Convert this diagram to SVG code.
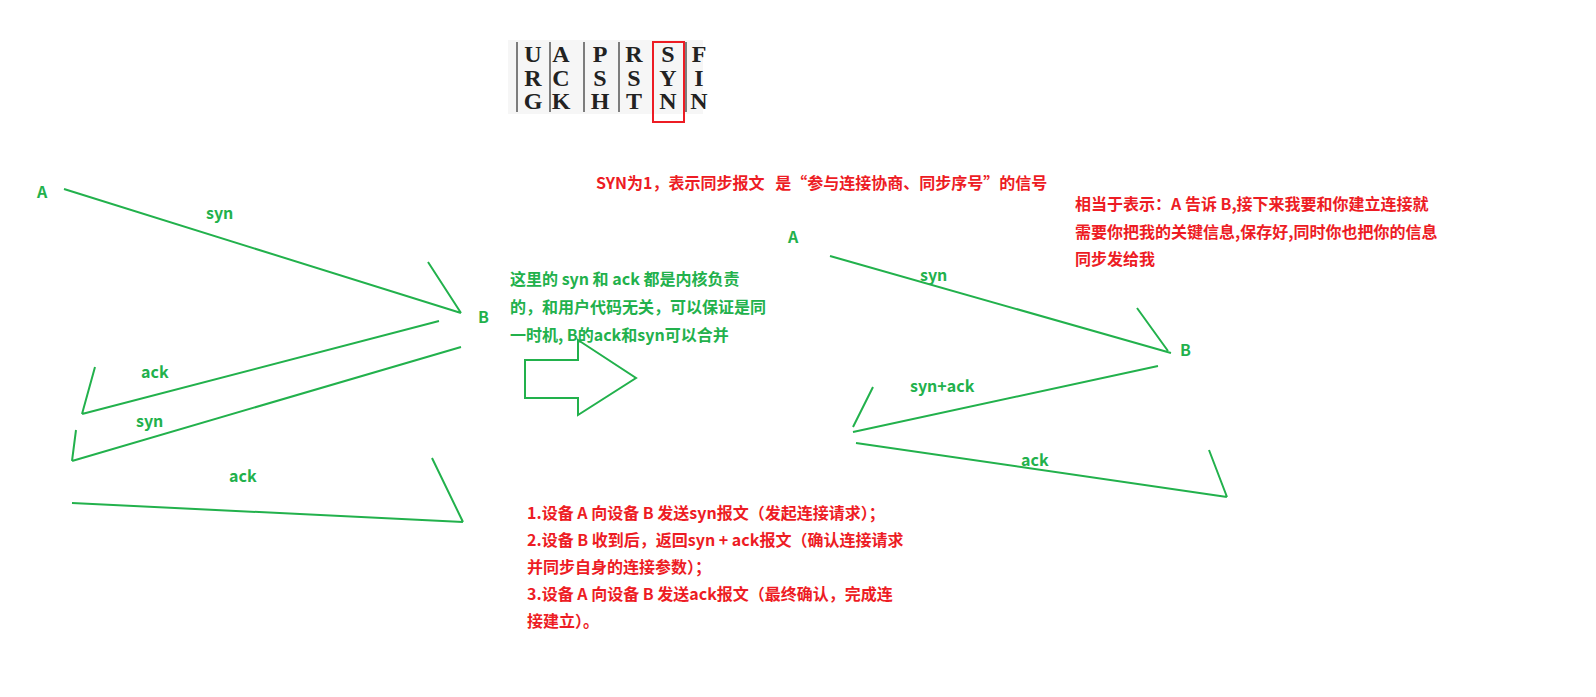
<svg xmlns="http://www.w3.org/2000/svg" width="1596" height="697" viewBox="0 0 1596 697">
<style>
.g{stroke:#22b14c;stroke-width:2;fill:none}
.gt{fill:#22b14c;font:bold 16px "Noto Sans CJK SC","Noto Sans",sans-serif}
.rt{fill:#ed1c24;font:bold 16px "Noto Sans CJK SC","Noto Sans",sans-serif}
.f{font:bold 24px "Liberation Serif",serif;fill:#222;text-anchor:middle}
</style>
<rect width="1596" height="697" fill="#fff"/>
<g id="flags">
<rect x="508" y="40" width="195" height="74" fill="#f6f6f6"/>
<g stroke="#555" stroke-width="1.5">
<line x1="517" y1="42" x2="517" y2="112"/><line x1="550" y1="42" x2="550" y2="112"/><line x1="584" y1="42" x2="584" y2="112"/><line x1="619" y1="42" x2="619" y2="112"/><line x1="686" y1="42" x2="686" y2="112"/>
</g>
<text class="f" x="533" y="62">U</text><text class="f" x="561" y="62">A</text><text class="f" x="600" y="62">P</text><text class="f" x="634" y="62">R</text><text class="f" x="668" y="62">S</text><text class="f" x="699" y="62">F</text>
<text class="f" x="533" y="86">R</text><text class="f" x="561" y="86">C</text><text class="f" x="600" y="86">S</text><text class="f" x="634" y="86">S</text><text class="f" x="668" y="86">Y</text><text class="f" x="699" y="86">I</text>
<text class="f" x="533" y="109">G</text><text class="f" x="561" y="109">K</text><text class="f" x="600" y="109">H</text><text class="f" x="634" y="109">T</text><text class="f" x="668" y="109">N</text><text class="f" x="699" y="109">N</text>
<rect x="653" y="42" width="31" height="80" fill="none" stroke="#ed1c24" stroke-width="2"/>
</g>
<g id="connectors">
<path class="g" d="M64 189 L461 313 M428 262 L461 313"/>
<path class="g" d="M439 321 L82 414 M95 367 L82 414"/>
<path class="g" d="M461 347 L72 461 M76 430 L72 461"/>
<path class="g" d="M72 503 L463 522 M432 458 L463 522"/>
<path class="g" d="M830 256 L1171 353 M1137 308 L1168 351"/>
<path class="g" d="M1158 366 L853 432 M873 387 L853 427"/>
<path class="g" d="M856 443 L1227 497 M1209 450 L1227 497"/>
<polygon class="g" points="525,360 578,360 578,340 636,378 578,415 578,398 525,398"/>
</g>
<g id="labels">
<text class="gt" x="37" y="198">A</text>
<text class="gt" x="478" y="323">B</text>
<text class="gt" x="206" y="219">syn</text>
<text class="gt" x="141" y="378">ack</text>
<text class="gt" x="136" y="427">syn</text>
<text class="gt" x="229" y="482">ack</text>
<text class="gt" x="788" y="243">A</text>
<text class="gt" x="1180" y="356">B</text>
<text class="gt" x="920" y="281">syn</text>
<text class="gt" x="910" y="392">syn+ack</text>
<text class="gt" x="1021" y="466">ack</text>
<text class="gt" x="510" y="285">这里的 syn 和 ack 都是内核负责</text>
<text class="gt" x="510" y="313">的，和用户代码无关，可以保证是同</text>
<text class="gt" x="510" y="341">一时机, B的ack和syn可以合并</text>
<text class="rt" x="596" y="189" xml:space="preserve">SYN为1，表示同步报文   是“参与连接协商、同步序号”的信号</text>
<text class="rt" x="1075" y="210">相当于表示：A 告诉 B,接下来我要和你建立连接就</text>
<text class="rt" x="1075" y="238">需要你把我的关键信息,保存好,同时你也把你的信息</text>
<text class="rt" x="1075" y="265">同步发给我</text>
<text class="rt" x="527" y="519">1.设备 A 向设备 B 发送syn报文（发起连接请求）；</text>
<text class="rt" x="527" y="546">2.设备 B 收到后，返回syn + ack报文（确认连接请求</text>
<text class="rt" x="527" y="573">并同步自身的连接参数）；</text>
<text class="rt" x="527" y="600">3.设备 A 向设备 B 发送ack报文（最终确认，完成连</text>
<text class="rt" x="527" y="627">接建立）。</text>
</g>
</svg>
